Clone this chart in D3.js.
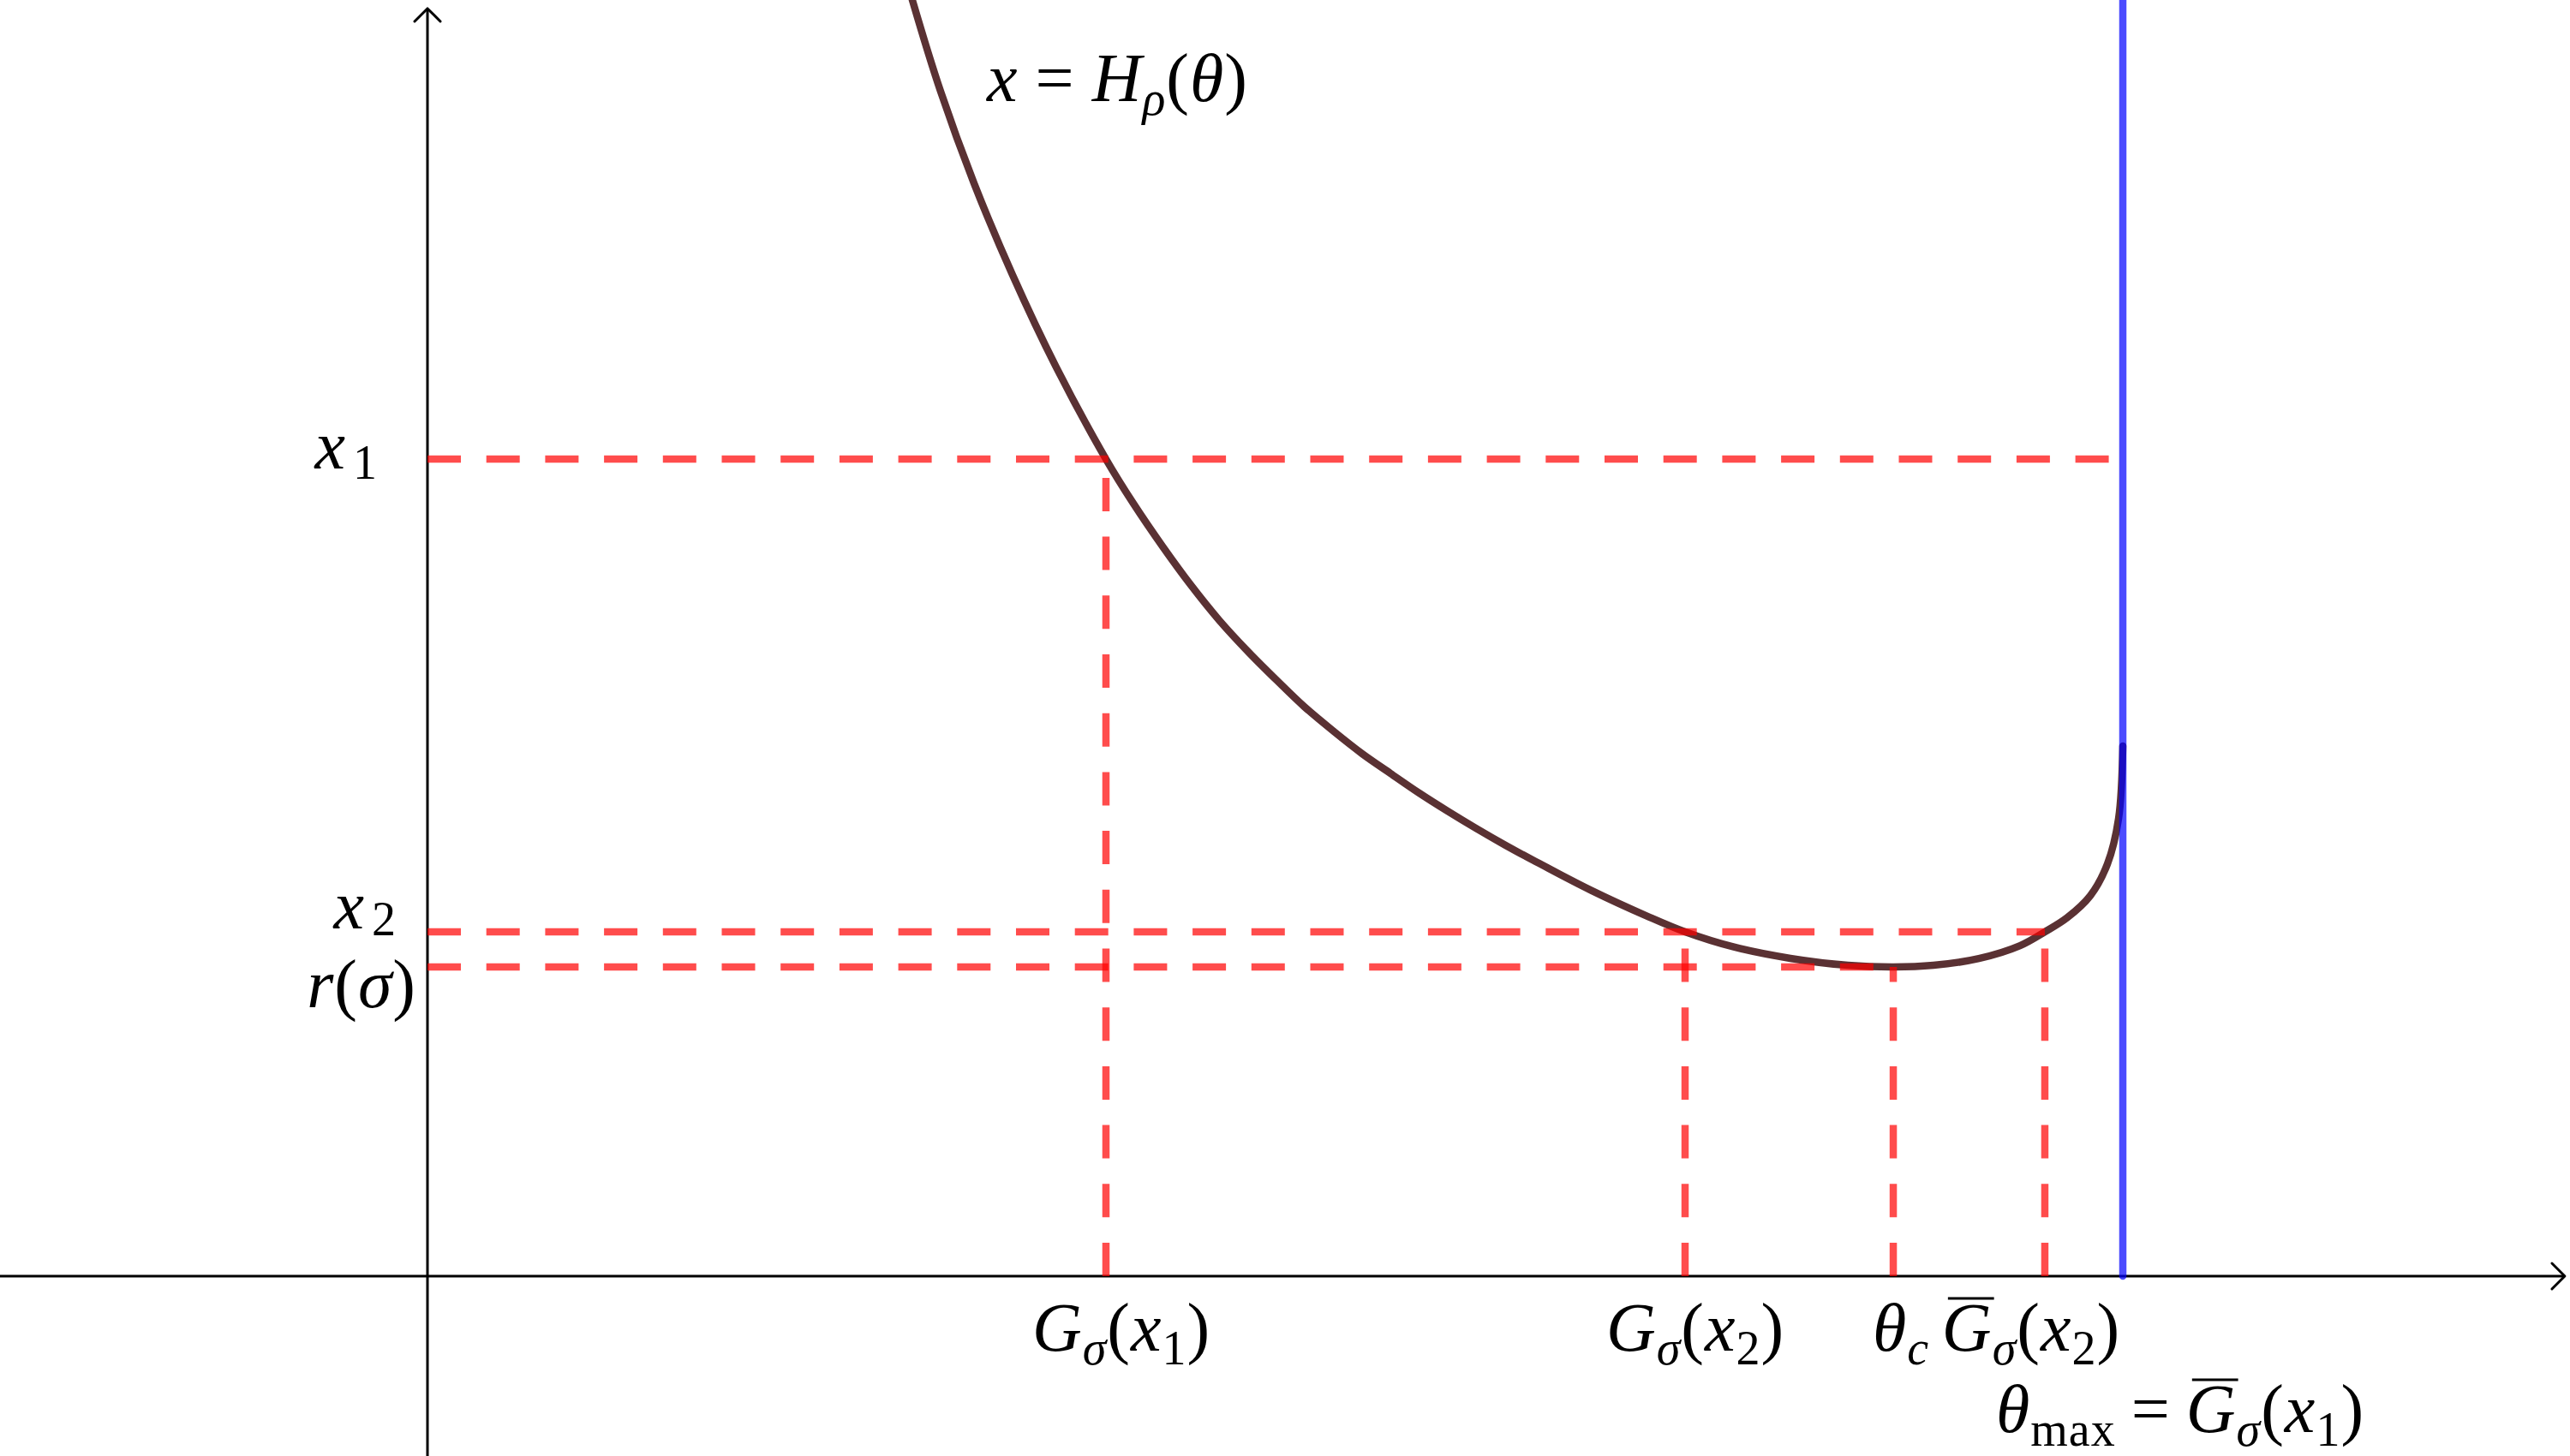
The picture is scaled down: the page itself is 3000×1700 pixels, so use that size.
<!DOCTYPE html>
<html>
<head>
<meta charset="utf-8">
<script src="https://cdn.jsdelivr.net/npm/d3@7"></script>
<style>
  html, body { margin: 0; padding: 0; background: #ffffff; }
  svg { display: block; }
</style>
</head>
<body>
<svg id="chart" width="3000" height="1700"></svg>
<script>
// ---------------- data ----------------
// curve x = H_rho(theta) (theta normalised so theta_max = 1)
const curveTheta = [0.2832, 0.2860, 0.3027, 0.3224, 0.3451, 0.3709, 0.4002, 0.4164, 0.4336, 0.4502,
                    0.4669, 0.4841, 0.5008, 0.5174, 0.5346, 0.5513, 0.5680, 0.5851, 0.6018, 0.6185,
                    0.6357, 0.6523, 0.6862, 0.7196, 0.7418, 0.7701, 0.8039, 0.8378, 0.8646, 0.8883,
                    0.9151, 0.9394, 0.9540, 0.9672, 0.9808, 0.9909, 0.9975, 1.0000];
const curveX     = [0.7626, 0.7525, 0.6985, 0.6444, 0.5904, 0.5359, 0.4818, 0.4556, 0.4303, 0.4076,
                    0.3869, 0.3682, 0.3515, 0.3356, 0.3212, 0.3081, 0.2965, 0.2848, 0.2742, 0.2641,
                    0.2542, 0.2452, 0.2276, 0.2122, 0.2030, 0.1942, 0.1874, 0.1833, 0.1823, 0.1833,
                    0.1873, 0.1949, 0.2030, 0.2114, 0.2243, 0.2430, 0.2699, 0.3126];

// horizontal reference levels (x1, x2, r(sigma)) and where each dashed line stops
const levelNames  = ["x1", "x2", "r"];
const levelValues = [0.4818, 0.2030, 0.1823];
const levelEnds   = [1.0000, 0.9540, 0.8646];

// vertical reference positions on the theta axis and the level each rises to
const thetaNames  = ["G(x1)", "G(x2)", "theta_c", "Gbar(x2)"];
const thetaValues = [0.4002, 0.7418, 0.8646, 0.9540];
const thetaTops   = [0.4818, 0.2030, 0.1823, 0.2030];

const thetaMax = 1.0;
const thetaAxisRange = [-0.2522, 1.2607];
const xAxisRange = [-0.1061, 0.7475];

// ---------------- layout ----------------
const svg = d3.select("#chart");
const sx = d3.scaleLinear().domain([0, 1]).range([499, 2478]);
const sy = d3.scaleLinear().domain([0, 0.75]).range([1490, 5]);

const FONT = "'Liberation Serif', 'Times New Roman', serif";
const FS = 80;
const RED = "#ff0000", BLUE = "#0000ff", BROWN = "#5a3133";

// axes
const axes = svg.append("g").attr("stroke", "#000").attr("stroke-width", 3).attr("fill", "none");
const hx0 = sx(thetaAxisRange[0]), hx1 = sx(thetaAxisRange[1]), hy = sy(0);
const vx = sx(0), vy0 = sy(xAxisRange[0]), vy1 = sy(xAxisRange[1]);
axes.append("line").attr("x1", hx0).attr("y1", hy).attr("x2", hx1).attr("y2", hy);
axes.append("line").attr("x1", vx).attr("y1", vy0).attr("x2", vx).attr("y2", vy1);
const ah = 15;
axes.append("path").attr("stroke-linecap", "round").attr("stroke-linejoin", "round")
  .attr("d", `M${hx1 - ah},${hy - ah} L${hx1},${hy} L${hx1 - ah},${hy + ah}`);
axes.append("path").attr("stroke-linecap", "round").attr("stroke-linejoin", "round")
  .attr("d", `M${vx - ah},${vy1 + ah} L${vx},${vy1} L${vx + ah},${vy1 + ah}`);

// curve
const pts = curveTheta.map((t, i) => [t, curveX[i]]);
const line = d3.line().x(d => sx(d[0])).y(d => sy(d[1])).curve(d3.curveCatmullRom.alpha(0.5));
svg.append("path").datum(pts)
  .attr("d", line)
  .attr("fill", "none")
  .attr("stroke", BROWN)
  .attr("stroke-width", 8.5)
  .attr("stroke-linecap", "round")
  .attr("stroke-linejoin", "round");

// dashed red guides
const dash = "39 29.7";
const guides = svg.append("g").attr("stroke", RED).attr("stroke-opacity", 0.7)
  .attr("stroke-width", 8.5).attr("stroke-dasharray", dash).attr("fill", "none");
guides.selectAll("line.h").data(levelValues).join("line").attr("class", "h")
  .attr("x1", sx(0)).attr("x2", (d, i) => sx(levelEnds[i]))
  .attr("y1", d => sy(d)).attr("y2", d => sy(d));
guides.selectAll("line.v").data(thetaValues).join("line").attr("class", "v")
  .attr("x1", d => sx(d)).attr("x2", d => sx(d))
  .attr("y1", sy(0)).attr("y2", (d, i) => sy(thetaTops[i]));

// blue vertical at theta_max
svg.append("line")
  .attr("x1", sx(thetaMax)).attr("x2", sx(thetaMax))
  .attr("y1", sy(0)).attr("y2", sy(xAxisRange[1]) - 20)
  .attr("stroke", BLUE).attr("stroke-opacity", 0.7).attr("stroke-width", 8.5)
  .attr("stroke-linecap", "round");

// ---------------- math-like labels ----------------
function mathText(x, y, anchor, parts) {
  const t = svg.append("text").attr("x", x).attr("y", y)
    .attr("text-anchor", anchor).attr("font-family", FONT).attr("font-size", FS)
    .attr("letter-spacing", 1).attr("fill", "#000");
  let shift = 0;
  const overs = [];
  let idx = 0;
  parts.forEach(p => {
    const ts = t.append("tspan").text(p.t);
    const target = p.sub ? FS * (p.subShift || 0.2) : 0;
    const dy = target - shift;
    if (dy !== 0) ts.attr("dy", dy);
    shift = target;
    if (p.i) ts.attr("font-style", "italic");
    if (p.sub) ts.attr("font-size", FS * 0.7);
    if (p.dx) ts.attr("dx", p.dx);
    if (p.over) overs.push([idx, idx + p.t.length - 1]);
    idx += p.t.length;
  });
  const node = t.node();
  overs.forEach(([a, b]) => {
    const s = node.getStartPositionOfChar(a);
    const e = node.getEndPositionOfChar(b);
    svg.append("line").attr("x1", s.x + 7).attr("x2", e.x + 2)
      .attr("y1", y - 61).attr("y2", y - 61)
      .attr("stroke", "#000").attr("stroke-width", 3.2);
  });
  return t;
}

const I = (t, o = {}) => Object.assign({ t, i: true }, o);
const R = (t, o = {}) => Object.assign({ t, i: false }, o);

// curve label
mathText(1152, 118, "start", [I("x"), R("=", { dx: 20 }), I("H", { dx: 20 }), I("ρ", { sub: true }), R("("), I("θ"), R(")")]);

// left labels
mathText(441, 547, "end", [I("x"), R("1", { sub: true, dx: 8, subShift: 0.15 })]);
mathText(463, 1084, "end", [I("x"), R("2", { sub: true, dx: 8, subShift: 0.1 })]);
mathText(486, 1176, "end", [I("r"), R("("), I("σ"), R(")")]);

// bottom labels
const bottomY = 1577;
mathText(sx(thetaValues[0]) + 18, bottomY, "middle", [I("G"), I("σ", { sub: true }), R("("), I("x"), R("1", { sub: true }), R(")")]);
mathText(sx(thetaValues[1]) + 12, bottomY, "middle", [I("G"), I("σ", { sub: true }), R("("), I("x"), R("2", { sub: true }), R(")")]);
mathText(sx(thetaValues[2]) + 9, bottomY, "middle", [I("θ"), I("c", { sub: true })]);
mathText(sx(thetaValues[3]) - 16, bottomY, "middle", [I("G", { over: true }), I("σ", { sub: true }), R("("), I("x"), R("2", { sub: true }), R(")")]);
mathText(sx(thetaMax) + 67, 1672, "middle", [I("θ"), R("max", { sub: true }), R("=", { dx: 18 }), I("G", { over: true, dx: 18 }), I("σ", { sub: true }), R("("), I("x"), R("1", { sub: true }), R(")")]);
</script>
</body>
</html>
